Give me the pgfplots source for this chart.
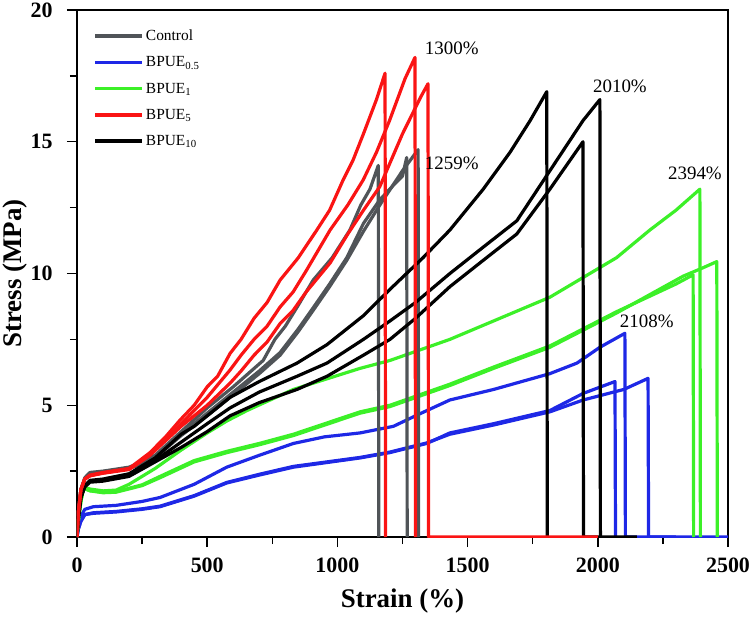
\documentclass[border=0pt]{standalone}
\usepackage{pgfplots}
\pgfplotsset{compat=1.18}
\usepackage{fontspec}
\setmainfont{Liberation Serif}
\definecolor{cgray}{RGB}{80,84,88}
\definecolor{cblue}{RGB}{30,40,230}
\definecolor{cgreen}{RGB}{60,240,40}
\definecolor{cred}{RGB}{250,20,20}
\begin{document}
\begin{tikzpicture}
\begin{axis}[
  scale only axis, width=651bp, height=527bp,
  xmin=0, xmax=2500, ymin=0, ymax=20,
  xtick={0,500,...,2500}, ytick={0,5,...,20},
  minor x tick num=1, minor y tick num=1,
  tick align=outside, xtick pos=bottom, ytick pos=left,
  major tick length=10bp, minor tick length=7bp,
  every tick/.style={line width=1.5bp, black},
  axis line style={line width=1.6bp},
  scaled ticks=false,
  /pgf/number format/assume math mode=true,
  /pgf/number format/1000 sep={},
  tick label style={font=\bfseries\fontsize{22}{22}\selectfont},
  xticklabel shift=7bp, yticklabel shift=11bp,
  label style={font=\bfseries\fontsize{27}{27}\selectfont},
  xlabel={Strain (\%)}, ylabel={Stress (MPa)},
  xlabel style={at={(axis description cs:0.5,-0.122)}, anchor=center},
  ylabel style={at={(axis description cs:-0.095,0.5)}, anchor=center},
  legend cell align=left,
  legend style={draw=none, fill=none, at={(axis description cs:0.025,0.966)}, anchor=north west,
    font=\fontsize{15.5}{18}\selectfont, row sep=10.5bp, inner sep=0pt},
  legend image code/.code={\draw[#1] (0bp,0bp) -- (47bp,0bp);},
  every axis plot/.append style={line width=3.2bp, line join=round},
]
\addlegendimage{cgray, line width=3.5bp}\addlegendentry{Control}
\addlegendimage{cblue, line width=3.5bp}\addlegendentry{BPUE\textsubscript{0.5}}
\addlegendimage{cgreen, line width=3.5bp}\addlegendentry{BPUE\textsubscript{1}}
\addlegendimage{cred, line width=3.5bp}\addlegendentry{BPUE\textsubscript{5}}
\addlegendimage{black, line width=3.5bp}\addlegendentry{BPUE\textsubscript{10}}

% Blue BPUE0.5
\addplot[cblue, forget plot] coordinates {(0,0)(5,0.4)(15,0.8)(30,1.05)(63,1.15)(150,1.2)(250,1.35)(319,1.5)(450,2.0)(575,2.65)(700,3.1)(831,3.55)(950,3.8)(1087,3.95)(1215,4.2)(1300,4.6)(1432,5.2)(1600,5.6)(1816,6.2)(1920,6.6)(2008,7.2)(2104,7.73)(2106,0)(2300,0)};
\addplot[cblue, forget plot] coordinates {(0,0)(5,0.3)(15,0.6)(30,0.85)(63,0.9)(150,0.95)(250,1.05)(319,1.15)(450,1.55)(575,2.05)(700,2.35)(831,2.65)(1087,3.0)(1200,3.2)(1343,3.55)(1432,3.95)(1600,4.3)(1816,4.8)(1944,5.45)(2066,5.9)(2068,0)};
\addplot[cblue, forget plot] coordinates {(0,0)(5,0.3)(15,0.6)(30,0.85)(63,0.92)(150,0.97)(250,1.07)(319,1.17)(450,1.57)(575,2.07)(700,2.38)(831,2.68)(1087,3.02)(1200,3.22)(1343,3.57)(1432,3.9)(1600,4.25)(1816,4.75)(1944,5.2)(2100,5.6)(2193,6.02)(2195,0)(2500,0)};

% Green BPUE1
\addplot[cgreen, forget plot] coordinates {(0,0)(5,0.6)(15,1.4)(25,1.9)(50,1.82)(100,1.75)(150,1.78)(200,2.0)(300,2.6)(400,3.3)(500,3.95)(575,4.4)(653,4.8)(831,5.6)(1087,6.4)(1202,6.7)(1432,7.5)(1600,8.2)(1816,9.1)(2072,10.6)(2200,11.65)(2300,12.4)(2392,13.2)(2394,0)};
\addplot[cgreen, forget plot] coordinates {(0,0)(5,0.6)(15,1.35)(25,1.85)(50,1.75)(100,1.68)(150,1.7)(250,1.95)(319,2.25)(450,2.85)(575,3.2)(700,3.5)(831,3.85)(1087,4.7)(1202,4.95)(1432,5.75)(1600,6.4)(1816,7.2)(2072,8.5)(2328,9.9)(2400,10.2)(2457,10.45)(2459,0)};
\addplot[cgreen, forget plot] coordinates {(0,0)(5,0.6)(15,1.35)(25,1.85)(50,1.76)(100,1.7)(150,1.72)(250,1.98)(319,2.3)(450,2.9)(575,3.25)(700,3.55)(831,3.9)(1087,4.75)(1202,5.0)(1432,5.8)(1600,6.45)(1816,7.25)(2072,8.55)(2300,9.6)(2366,9.95)(2368,0)};

% Gray Control
\addplot[cgray, forget plot] coordinates {(0,0)(5,0.9)(15,1.8)(30,2.25)(50,2.45)(100,2.5)(200,2.65)(250,2.85)(300,3.1)(400,4.0)(500,4.9)(600,5.7)(715,6.7)(760,7.5)(800,8.0)(850,8.8)(907,9.75)(980,10.6)(1048,11.65)(1090,12.6)(1125,13.2)(1157,14.1)(1159,0)};
\addplot[cgray, forget plot] coordinates {(0,0)(5,0.9)(15,1.8)(30,2.2)(50,2.4)(100,2.48)(200,2.62)(250,2.8)(300,3.05)(400,3.9)(500,4.7)(600,5.5)(700,6.3)(780,7.0)(850,7.9)(907,8.7)(970,9.6)(1036,10.6)(1100,11.9)(1163,12.8)(1220,13.4)(1250,13.7)(1266,14.4)(1268,0)};
\addplot[cgray, forget plot] coordinates {(0,0)(5,0.9)(15,1.8)(30,2.2)(50,2.4)(100,2.47)(200,2.6)(250,2.78)(300,3.0)(400,3.85)(500,4.6)(600,5.4)(700,6.2)(780,6.9)(850,7.8)(907,8.6)(970,9.5)(1036,10.5)(1100,11.6)(1163,12.6)(1250,13.9)(1310,14.7)(1312,0)};

% Black BPUE10
\addplot[black, forget plot] coordinates {(0,0)(5,0.7)(15,1.5)(30,1.95)(50,2.15)(100,2.2)(200,2.4)(300,3.0)(400,3.9)(450,4.2)(588,5.3)(700,5.9)(845,6.6)(960,7.3)(1100,8.4)(1202,9.4)(1329,10.6)(1432,11.65)(1560,13.2)(1663,14.6)(1740,15.8)(1804,16.9)(1806,0)};
\addplot[black, forget plot] coordinates {(0,0)(5,0.7)(15,1.5)(30,1.95)(50,2.12)(100,2.17)(200,2.35)(300,2.9)(400,3.6)(500,4.3)(588,4.9)(700,5.5)(845,6.1)(960,6.6)(1100,7.5)(1202,8.2)(1300,8.9)(1432,10.0)(1560,11.0)(1689,12.0)(1816,13.9)(1943,15.8)(2008,16.6)(2010,0)};
\addplot[black, forget plot] coordinates {(0,0)(5,0.7)(15,1.5)(30,1.9)(50,2.08)(100,2.12)(200,2.3)(300,2.85)(400,3.4)(500,4.0)(588,4.6)(700,5.1)(845,5.6)(960,6.1)(1100,6.9)(1202,7.5)(1300,8.3)(1432,9.5)(1560,10.5)(1689,11.5)(1816,13.2)(1943,15.0)(1945,0)(2150,0)};

% Red BPUE5
\addplot[cred, forget plot] coordinates {(0,0)(5,0.9)(15,1.8)(30,2.2)(50,2.35)(100,2.45)(200,2.6)(280,3.2)(340,3.8)(396,4.44)(450,5.0)(500,5.7)(540,6.1)(588,6.97)(630,7.5)(680,8.3)(730,8.9)(780,9.75)(850,10.6)(921,11.65)(970,12.4)(1022,13.55)(1060,14.3)(1100,15.3)(1150,16.6)(1183,17.6)(1185,0)};
\addplot[cred, forget plot] coordinates {(0,0)(5,0.9)(15,1.8)(30,2.2)(50,2.33)(100,2.43)(200,2.58)(280,3.15)(340,3.7)(400,4.3)(450,4.8)(500,5.3)(588,6.34)(630,6.9)(680,7.5)(730,8.0)(780,8.73)(830,9.3)(880,10.1)(972,11.65)(1040,12.6)(1099,13.55)(1150,14.6)(1200,15.8)(1260,17.4)(1298,18.2)(1300,0)};
\addplot[cred, forget plot] coordinates {(0,0)(5,0.9)(15,1.8)(30,2.2)(50,2.32)(100,2.42)(200,2.56)(280,3.1)(340,3.65)(400,4.2)(450,4.6)(500,5.0)(588,5.84)(630,6.3)(680,6.9)(730,7.4)(780,8.1)(830,8.6)(880,9.3)(972,10.4)(1040,11.5)(1100,12.4)(1163,13.3)(1250,15.3)(1320,16.7)(1348,17.2)(1350,0)(2000,0)};

\node[font=\fontsize{19}{19}\selectfont] at (axis cs:1439,18.55) {1300\%};
\node[font=\fontsize{19}{19}\selectfont] at (axis cs:1439,14.18) {1259\%};
\node[font=\fontsize{19}{19}\selectfont] at (axis cs:2085,17.1) {2010\%};
\node[font=\fontsize{19}{19}\selectfont] at (axis cs:2373,13.8) {2394\%};
\node[font=\fontsize{19}{19}\selectfont] at (axis cs:2188,8.17) {2108\%};
\end{axis}
\pgfresetboundingbox
\path[use as bounding box] (-77bp,-86bp) rectangle (676bp,537bp);
\end{tikzpicture}
\end{document}
